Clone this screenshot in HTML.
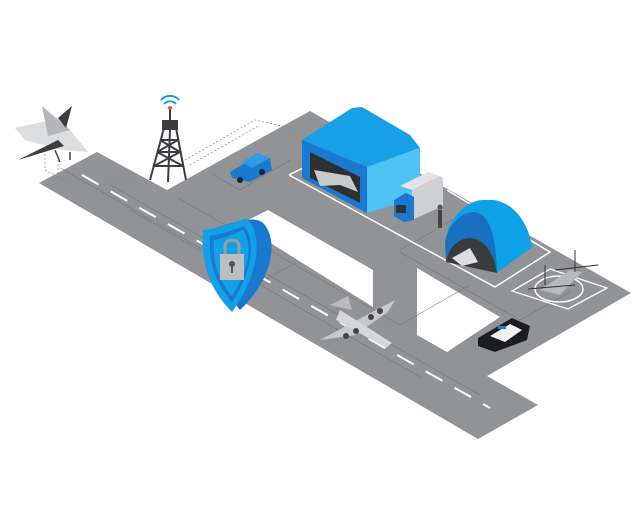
<!DOCTYPE html>
<html><head><meta charset="utf-8"><style>html,body{margin:0;padding:0;background:#fff}svg{display:block}</style></head>
<body>
<svg width="640" height="520" viewBox="0 0 640 520" xmlns="http://www.w3.org/2000/svg">
<path d="M39,183 L97,152 L167,190 L310,111 L631,293 L487,376 L538,405 L478,439 Z" fill="#929396"/>
<path d="M240,224 L268,210 L373,270 L373,307 Z" fill="#fff"/>
<path d="M417,268 L500,317 L447,352 L417,335 Z" fill="#fff"/>
<g stroke="#6d6e71" stroke-width="0.6" fill="none" opacity="0.8">
<path d="M60,168 L260,282 L292,265"/>
<path d="M110,185 L480,395"/>
<path d="M178,198 L400,325 L470,285"/>
<path d="M214,175 L240,190 L290,160"/>
<path d="M320,180 L360,203 L420,168"/>
<path d="M470,210 L400,250"/>
<path d="M400,252 L520,320 L570,292"/>
<path d="M130,210 L420,377"/>
</g>
<g stroke="#8a8a8a" stroke-width="0.7" fill="none" stroke-dasharray="2,2">
<path d="M45,150 L45,170 L65,180 L65,190"/>
<path d="M58,160 L58,180 L150,180"/>
<path d="M185,160 L255,120 L300,130"/>
<path d="M190,165 L260,125"/>
</g>
<path d="M82,175 L490,408" stroke="#fff" stroke-width="2" stroke-dasharray="19,14"/>
<path d="M289,175 L495,287 L550,252 L447,190" stroke="#fff" stroke-width="1.5" fill="none"/>
<path d="M289,175 L303,168" stroke="#fff" stroke-width="1.5"/>
<path d="M512,291 L550,269 L607,288 L568,309 Z" stroke="#fff" stroke-width="1.3" fill="none"/>
<ellipse cx="559" cy="289" rx="24" ry="13" stroke="#fff" stroke-width="1.5" fill="none"/>
<!-- hangar -->
<path d="M302,140 L352,108 L362,107 L410,135 L420,148 L367,167 Z" fill="#17a0e6"/>
<path d="M302,140 L367,167 L367,213 L302,178 Z" fill="#1b78cf"/>
<path d="M367,167 L420,148 L420,197 L367,213 Z" fill="#4cc3f3"/>
<path d="M310,152 L360,177 L360,203 L310,178 Z" fill="#2e2f31"/>
<path d="M314,170 L350,176 L358,192 L340,185 L320,186 Z" fill="#c8c9cb"/>
<!-- truck -->
<path d="M412,190 L440,176 L443,178 L443,206 L412,220 Z" fill="#cfd0d2"/>
<path d="M412,190 L440,176 L428,172 L400,186 Z" fill="#e2e3e5"/>
<path d="M394,200 L406,193 L414,197 L414,220 L404,222 L394,216 Z" fill="#1b78cf"/>
<rect x="396" y="205" width="10" height="8" fill="#333"/>
<rect x="438" y="210" width="4" height="18" fill="#444"/>
<circle cx="440" cy="207" r="2.5" fill="#555"/>
<!-- arch hangar -->
<path d="M445,243 C448,215 470,198 487,200 C510,198 528,220 532,247 L497,273 C494,250 482,238 470,238 C458,238 448,248 446,262 Z" fill="#0ea1e6"/>
<path d="M446,262 C448,248 458,238 470,238 C482,238 494,250 497,273 L446,262 Z" fill="#3a3b3d"/>
<path d="M445,243 C448,225 460,213 473,212 C485,212 496,225 497,273 C494,250 482,238 470,238 C458,238 448,248 446,262 Z" fill="#1a70c0"/>
<path d="M452,258 L470,248 L478,262 L462,266 Z" fill="#ddd"/>
<!-- helicopter -->
<path d="M540,290 L570,270 L582,272 L560,295 Z" fill="#b8b9bb"/>
<path d="M555,270 L598,265" stroke="#333" stroke-width="1"/>
<path d="M528,289 L575,285" stroke="#333" stroke-width="1"/>
<path d="M575,250 L575,272 M545,265 L545,285" stroke="#333" stroke-width="1"/>
<!-- police car -->
<path d="M478,338 L512,318 L530,326 L527,340 L495,352 L478,346 Z" fill="#1c1d1f"/>
<path d="M490,336 L510,324 L522,330 L505,342 Z" fill="#f2f2f2"/>
<rect x="498" y="326" width="8" height="3" fill="#1f80d8"/>
<!-- plane -->
<path d="M320,340 L395,300 L388,312 L355,335 Z" fill="#c8c9cb"/>
<path d="M340,310 L392,343 L386,348 L336,320 Z" fill="#d6d7d9"/>
<path d="M330,305 L348,296 L352,310 Z" fill="#bbb"/>
<g fill="#444"><circle cx="346" cy="336" r="3"/><circle cx="356" cy="331" r="3"/><circle cx="371" cy="317" r="3"/><circle cx="380" cy="311" r="3"/></g>
<!-- humvee -->
<path d="M230,172 L250,160 L270,158 L272,170 L250,182 L232,178 Z" fill="#1b78cf"/>
<path d="M242,162 L258,153 L270,158 L252,168 Z" fill="#2f9ae6"/>
<g fill="#222"><circle cx="240" cy="180" r="3"/><circle cx="262" cy="172" r="3"/></g>
<!-- tower -->
<g stroke="#3c3d40" stroke-width="2" fill="none">
<path d="M150,180 L164,128 M186,180 L176,128 M168,182 L170,130"/>
<path d="M154,166 L183,166 M157,152 L180,152 M160,140 L178,140 M154,166 L180,152 M183,166 L157,152 M157,152 L178,140 M180,152 L160,140"/>
</g>
<rect x="162" y="120" width="16" height="10" fill="#3c3d40"/>
<rect x="169" y="108" width="2" height="12" fill="#3c3d40"/>
<circle cx="170" cy="108" r="2" fill="#e4572e"/>
<path d="M164,104 A8,8 0 0 1 176,104 M161,100 A12,12 0 0 1 179,100" stroke="#1b9be0" stroke-width="2" fill="none"/>
<!-- jet -->
<path d="M15,128 L60,118 L88,152 L62,150 L25,140 Z" fill="#dcdddf"/>
<path d="M42,106 L48,136 L70,130 Z" fill="#b5b6b8"/>
<path d="M18,160 L58,140 L64,146 Z" fill="#3c3d40"/>
<path d="M58,118 L72,106 L66,128 Z" fill="#3c3d40"/>
<path d="M55,150 L60,162 M70,152 L70,160" stroke="#444" stroke-width="1.5"/>
<!-- shield -->
<path d="M215,228 C235,222 252,216 262,222 C278,236 276,276 240,310 C222,288 212,262 215,228 Z" fill="#1b78cf"/>
<path d="M203,230 C220,228 236,222 246,218 C262,232 262,270 232,312 C210,290 200,262 203,230 Z" fill="#12a0e6"/>
<path d="M210,236 C223,234 236,229 244,226 C255,238 254,270 232,302 C216,284 208,262 210,236 Z" fill="#1b78cf"/>
<path d="M214,240 C225,238 236,233 243,230 C252,241 251,268 232,296 C218,280 212,260 214,240 Z" fill="#12a0e6"/>
<path d="M225,256 L225,246 C225,238 239,238 239,246 L239,256" stroke="#9a9b9d" stroke-width="3" fill="none"/>
<rect x="220" y="254" width="24" height="26" fill="#bcbdbf"/>
<circle cx="232" cy="264" r="3" fill="#555"/>
<rect x="231" y="265" width="2" height="8" fill="#555"/>
</svg>
</body></html>
